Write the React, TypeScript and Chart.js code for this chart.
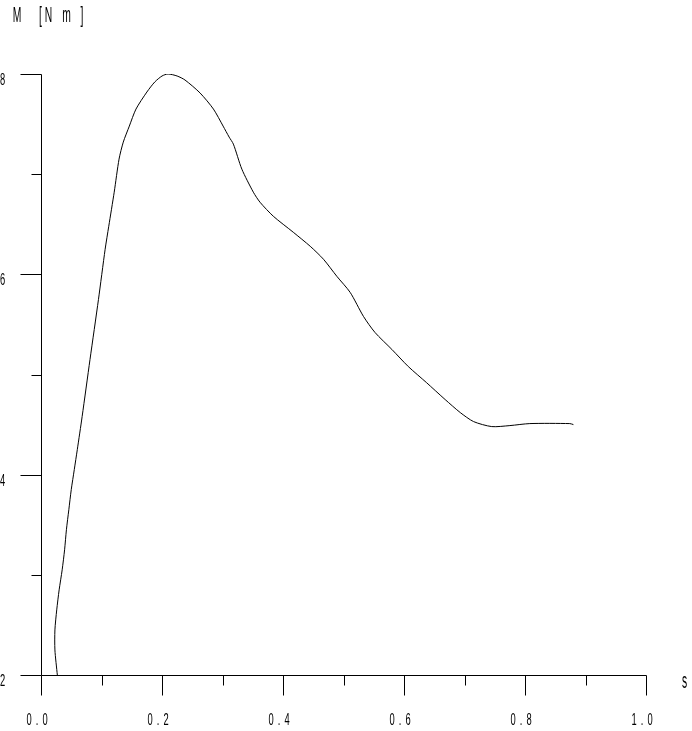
import React, { useEffect, useRef } from "react";
import { Chart, registerables } from "chart.js";

Chart.register(...registerables);

// Curve: slip s (x) vs torque M [N m] (y)
const sValues = [0.027,0.023,0.023,0.026,0.030,0.035,0.039,0.042,0.046,0.050,0.055,0.060,0.068,0.081,0.095,0.106,0.112,0.121,0.129,0.136,0.146,0.157,0.175,0.188,0.200,0.210,0.225,0.238,0.263,0.285,0.301,0.311,0.318,0.332,0.351,0.362,0.384,0.417,0.445,0.467,0.489,0.511,0.533,0.552,0.580,0.607,0.637,0.668,0.693,0.715,0.745,0.775,0.808,0.874,0.880];
const mValues = [2.00,2.25,2.45,2.65,2.85,3.05,3.25,3.45,3.65,3.85,4.05,4.25,4.58,5.15,5.75,6.25,6.48,6.82,7.15,7.32,7.48,7.65,7.82,7.92,7.98,8.00,7.98,7.94,7.81,7.65,7.48,7.37,7.30,7.05,6.82,6.72,6.58,6.42,6.28,6.15,5.98,5.82,5.58,5.42,5.25,5.08,4.92,4.75,4.62,4.53,4.48,4.49,4.51,4.51,4.50];

const xTicks = [0, 0.1, 0.2, 0.3, 0.4, 0.5, 0.6, 0.7, 0.8, 0.9, 1.0];
const xLabels = ["0.0", "", "0.2", "", "0.4", "", "0.6", "", "0.8", "", "1.0"];
const yTicks = [2, 3, 4, 5, 6, 7, 8];
const yLabels = ["2", "", "4", "", "6", "", "8"];
const yTitle = "M [N m]";
const xTitle = "s";

const TICK_FONT = '17px "Liberation Sans", Arial, sans-serif';
const TITLE_FONT = '22px "Liberation Sans", Arial, sans-serif';

function drawGlyph(ctx: CanvasRenderingContext2D, str: string, cx: number, baseline: number, font: string, sx: number) {
  ctx.save();
  ctx.translate(cx, baseline);
  ctx.scale(sx, 1);
  ctx.font = font;
  ctx.fillStyle = "#000";
  ctx.textAlign = "center";
  ctx.textBaseline = "alphabetic";
  ctx.fillText(str, 0, 0);
  ctx.restore();
}

const axesPlugin = {
  id: "oldAxes",
  afterDraw(chart: any) {
    const ctx: CanvasRenderingContext2D = chart.ctx;
    const xs = chart.scales.x;
    const ys = chart.scales.y;
    const crisp = (v: number) => Math.round(v) + 0.5;
    const x0 = crisp(xs.getPixelForValue(xTicks[0]));
    const x1 = crisp(xs.getPixelForValue(xTicks[xTicks.length - 1]));
    const y0 = crisp(ys.getPixelForValue(yTicks[0]));
    const y1 = crisp(ys.getPixelForValue(yTicks[yTicks.length - 1]));
    ctx.save();
    ctx.strokeStyle = "#000";
    ctx.lineWidth = 1;
    ctx.beginPath();
    ctx.moveTo(x0, y1);
    ctx.lineTo(x0, y0);
    ctx.moveTo(x0, y0);
    ctx.lineTo(x1, y0);
    // x ticks
    xTicks.forEach((v, i) => {
      const p = crisp(xs.getPixelForValue(v));
      const len = xLabels[i] ? 20 : 10;
      ctx.moveTo(p, y0);
      ctx.lineTo(p, y0 + len);
    });
    // y ticks
    yTicks.forEach((v, i) => {
      const p = crisp(ys.getPixelForValue(v));
      const len = yLabels[i] ? 21 : 10;
      ctx.moveTo(x0, p);
      ctx.lineTo(x0 - len, p);
    });
    ctx.stroke();
    ctx.restore();

    // x labels, fixed pitch characters
    xTicks.forEach((v, i) => {
      const lab = xLabels[i];
      if (!lab) return;
      const p = xs.getPixelForValue(v);
      const chars = lab.split("");
      chars.forEach((c, k) => {
        drawGlyph(ctx, c, p - 12 + k * 8, 725, TICK_FONT, 0.55);
      });
    });
    // y labels
    yTicks.forEach((v, i) => {
      const lab = yLabels[i];
      if (!lab) return;
      const p = ys.getPixelForValue(v);
      drawGlyph(ctx, lab, 2.5, p + 11, TICK_FONT, 0.55);
    });
    // axis titles
    const titleChars = yTitle.replace(/ /g, "").split("");
    const titlePos = [17, 40.5, 48.5, 66.5, 82];
    titleChars.forEach((c, k) => {
      drawGlyph(ctx, c, titlePos[k], 21.5, TITLE_FONT, 0.47);
    });
    drawGlyph(ctx, xTitle, 684.5, 688, TITLE_FONT, 0.47);
  },
};

export default function App() {
  const ref = useRef<HTMLCanvasElement | null>(null);
  useEffect(() => {
    if (!ref.current) return;
    const data = sValues.map((s, i) => ({ x: s, y: mValues[i] }));
    const chart = new Chart(ref.current, {
      type: "scatter",
      data: {
        datasets: [
          {
            label: "M",
            data,
            showLine: true,
            borderColor: "#000",
            borderWidth: 1,
            pointRadius: 0,
            tension: 0.25,
            fill: false,
          },
        ],
      },
      options: {
        responsive: false,
        animation: false,
        devicePixelRatio: 1,
        layout: { padding: { left: 41, right: 46, top: 74, bottom: 56 } },
        plugins: { legend: { display: false }, tooltip: { enabled: false } },
        scales: {
          x: { type: "linear", min: 0, max: 1, display: false },
          y: { type: "linear", min: 2, max: 8, display: false },
        },
      },
      plugins: [axesPlugin],
    });
    return () => chart.destroy();
  }, []);
  return (
    <div style={{ position: "fixed", left: 0, top: 0, width: 692, height: 731, background: "#fff" }}>
      <canvas ref={ref} width={692} height={731} style={{ display: "block" }} />
    </div>
  );
}
